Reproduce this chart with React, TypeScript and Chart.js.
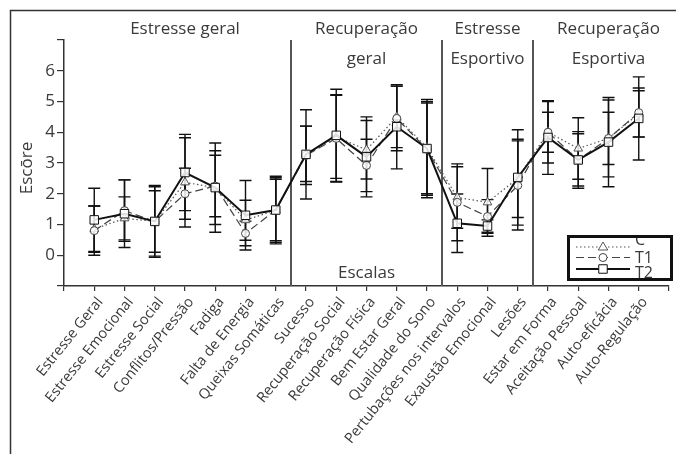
import { useEffect, useRef } from 'react';
import { Chart, registerables } from 'chart.js';
Chart.register(...registerables);

const FONT = '"Open Sans", "DejaVu Sans", sans-serif';
const TEXT = '#3a3a3a';

const categories = [
  'Estresse Geral', 'Estresse Emocional', 'Estresse Social', 'Conflitos/Pressão', 'Fadiga',
  'Falta de Energia', 'Queixas Somáticas', 'Sucesso', 'Recuperação Social', 'Recuperação Física',
  'Bem Estar Geral', 'Qualidade do Sono', 'Pertubações nos intervalos', 'Exaustão Emocional', 'Lesões',
  'Estar em Forma', 'Aceitação Pessoal', 'Auto-eficácia', 'Auto-Regulação',
];

const meanC = [0.85, 1.2, 1.1, 2.37, 2.2, 1.14, 1.47, 3.3, 3.85, 3.43, 4.5, 3.5, 1.88, 1.72, 2.5, 4.0, 3.47, 3.8, 4.6];
const sdC = [0.75, 0.7, 1.0, 1.45, 1.2, 0.65, 1.0, 0.9, 1.35, 0.95, 1.0, 1.5, 1.0, 1.1, 1.27, 0.65, 1.0, 0.85, 0.75];
const meanT1 = [0.8, 1.45, 1.1, 2.0, 2.25, 0.71, 1.47, 3.25, 3.8, 2.92, 4.45, 3.45, 1.72, 1.26, 2.27, 4.0, 3.1, 3.8, 4.64];
const sdT1 = [0.8, 1.0, 1.13, 0.83, 1.0, 0.4, 1.1, 0.95, 1.42, 0.85, 1.05, 1.5, 1.25, 0.55, 1.45, 1.0, 0.85, 1.25, 0.8];
const meanT2 = [1.15, 1.35, 1.1, 2.69, 2.2, 1.3, 1.47, 3.28, 3.9, 3.2, 4.18, 3.47, 1.04, 0.95, 2.53, 3.83, 3.1, 3.68, 4.45];
const sdT2 = [1.03, 1.1, 1.17, 1.24, 1.45, 1.13, 1.05, 1.45, 1.5, 1.3, 1.37, 1.6, 0.95, 0.2, 1.55, 1.2, 0.92, 1.45, 1.35];

const seriesNames = ['C', 'T1', 'T2'];
const yTickLabels = [0, 1, 2, 3, 4, 5, 6];
const separators = [7.5, 12.5, 15.5];
const groupTitles = [
  { x: 4, lines: ['Estresse geral'] },
  { x: 10, lines: ['Recuperação', 'geral'] },
  { x: 14, lines: ['Estresse', 'Esportivo'] },
  { x: 18, lines: ['Recuperação', 'Esportiva'] },
];
const axisTitleY = 'Escōre';
const axisTitleX = 'Escalas';

const means = [meanC, meanT1, meanT2];
const sds = [sdC, sdT1, sdT2];

const styles = [
  { color: '#555', width: 1.2, dash: [1.5, 2.5], point: 'triangle', radius: 5 },
  { color: '#444', width: 1.2, dash: [8, 4], point: 'circle', radius: 4 },
  { color: '#111', width: 2, dash: [] as number[], point: 'rect', radius: 6 },
];

function drawMarker(ctx: CanvasRenderingContext2D, kind: string, x: number, y: number, r: number) {
  ctx.beginPath();
  if (kind === 'triangle') {
    ctx.moveTo(x, y - r);
    ctx.lineTo(x + r * 0.95, y + r * 0.6);
    ctx.lineTo(x - r * 0.95, y + r * 0.6);
    ctx.closePath();
  } else if (kind === 'circle') {
    ctx.arc(x, y, r, 0, Math.PI * 2);
  } else {
    const s = r * Math.SQRT1_2;
    ctx.rect(x - s, y - s, 2 * s, 2 * s);
  }
  ctx.fill();
  ctx.stroke();
}

const decor = {
  id: 'decor',
  beforeDatasetsDraw(chart: any) {
    const { ctx, scales } = chart;
    const xs = scales.x, ys = scales.y;
    ctx.save();
    ctx.strokeStyle = '#555';
    ctx.lineWidth = 2;
    separators.forEach((s) => {
      const px = Math.round(xs.getPixelForValue(s));
      ctx.beginPath();
      ctx.moveTo(px, chart.chartArea.top);
      ctx.lineTo(px, chart.chartArea.bottom);
      ctx.stroke();
    });
    ctx.strokeStyle = '#111';
    ctx.lineWidth = 1.4;
    means.forEach((m, si) => {
      m.forEach((v, i) => {
        const px = xs.getPixelForValue(i + 1);
        const t = ys.getPixelForValue(v + sds[si][i]);
        const b = ys.getPixelForValue(v - sds[si][i]);
        ctx.beginPath();
        ctx.moveTo(px, t); ctx.lineTo(px, b);
        ctx.moveTo(px - 6, t); ctx.lineTo(px + 6, t);
        ctx.moveTo(px - 6, b); ctx.lineTo(px + 6, b);
        ctx.stroke();
      });
    });
    ctx.restore();
  },
  afterDraw(chart: any) {
    const { ctx, scales } = chart;
    const xs = scales.x;
    ctx.save();
    ctx.strokeStyle = '#333';
    ctx.lineWidth = 1.5;
    ctx.beginPath();
    ctx.moveTo(10.5, 454);
    ctx.lineTo(10.5, 10.5);
    ctx.lineTo(676, 10.5);
    ctx.stroke();
    ctx.fillStyle = TEXT;
    ctx.font = `17px ${FONT}`;
    ctx.textAlign = 'center';
    ctx.textBaseline = 'alphabetic';
    groupTitles.forEach((g) => {
      const px = xs.getPixelForValue(g.x);
      g.lines.forEach((l, li) => ctx.fillText(l, px, 34 + li * 29.5));
    });
    ctx.fillText(axisTitleX, xs.getPixelForValue(10), 278);
    ctx.save();
    ctx.translate(32, 168);
    ctx.rotate(-Math.PI / 2);
    ctx.textAlign = 'center';
    ctx.textBaseline = 'alphabetic';
    ctx.fillText(axisTitleY, 0, 0);
    ctx.restore();
    const bx = 568.5, by = 236.5, bw = 103, bh = 43;
    ctx.save();
    ctx.beginPath();
    ctx.rect(bx, by, bw, bh);
    ctx.clip();
    const rows = [247, 257.5, 269];
    const textY = [245, 263, 278];
    styles.forEach((s, i) => {
      ctx.strokeStyle = s.color;
      ctx.lineWidth = s.width;
      ctx.setLineDash(s.dash);
      ctx.beginPath();
      ctx.moveTo(576, rows[i]);
      ctx.lineTo(630, rows[i]);
      ctx.stroke();
      ctx.setLineDash([]);
      ctx.lineWidth = 1;
      ctx.fillStyle = '#fff';
      drawMarker(ctx, s.point, 603, rows[i], s.radius);
      ctx.fillStyle = TEXT;
      ctx.font = `16px ${FONT}`;
      ctx.textAlign = 'left';
      ctx.fillText(seriesNames[i], 635, textY[i]);
    });
    ctx.restore();
    ctx.strokeStyle = '#111';
    ctx.lineWidth = 3;
    ctx.strokeRect(bx, by, bw, bh);
    ctx.restore();
  },
};

export default function App() {
  const ref = useRef<HTMLCanvasElement | null>(null);
  useEffect(() => {
    if (!ref.current) return;
    const datasets = means.map((m, si) => ({
      label: seriesNames[si],
      data: m.map((v, i) => ({ x: i + 1, y: v })),
      borderColor: styles[si].color,
      borderWidth: styles[si].width,
      borderDash: styles[si].dash,
      pointStyle: styles[si].point,
      pointRadius: styles[si].radius,
      pointBackgroundColor: 'rgba(255,255,255,0.85)',
      pointBorderColor: styles[si].color,
      pointBorderWidth: 1,
      fill: false,
      tension: 0,
      order: 3 - si,
    }));
    const chart = new Chart(ref.current, {
      type: 'line',
      data: { datasets },
      plugins: [decor],
      options: {
        animation: false,
        responsive: false,
        maintainAspectRatio: false,
        layout: { padding: { top: 40, left: 0, right: 0, bottom: 0 } },
        plugins: { legend: { display: false }, tooltip: { enabled: false } },
        scales: {
          x: {
            type: 'linear',
            min: 0,
            max: 20,
            afterFit: (s: any) => { s.height = 168; s.paddingLeft = 0; s.paddingRight = 0; },
            afterBuildTicks: (s: any) => { s.ticks = Array.from({ length: 21 }, (_, i) => ({ value: i })); },
            ticks: {
              autoSkip: false,
              stepSize: 1,
              minRotation: 51,
              maxRotation: 51,
              padding: 3,
              labelOffset: 6,
              color: TEXT,
              font: { family: FONT, size: 14.5 },
              callback: (v: any) => categories[Number(v) - 1] ?? '',
            },
            grid: { display: true, drawOnChartArea: false, drawTicks: true, tickLength: 5, color: '#333', lineWidth: 1.2 },
            border: { display: true, color: '#333', width: 1.5 },
          },
          y: {
            type: 'linear',
            min: -1,
            max: 7,
            afterFit: (s: any) => { s.width = 64; s.paddingTop = 0; s.paddingBottom = 0; },
            ticks: {
              stepSize: 1,
              padding: 2,
              color: TEXT,
              font: { family: FONT, size: 17 },
              callback: (v: any) => (yTickLabels.includes(Number(v)) ? String(v) : ''),
            },
            grid: { display: true, drawOnChartArea: false, drawTicks: true, tickLength: 7, color: '#333', lineWidth: 1.2 },
            border: { display: true, color: '#333', width: 1.5 },
          },
        },
      } as any,
    });
    return () => chart.destroy();
  }, []);
  return (
    <div style={{ position: 'fixed', left: 0, top: 0, width: 676, height: 454, background: '#fff' }}>
      <canvas ref={ref} width={676} height={454} style={{ width: 676, height: 454, display: 'block' }} />
    </div>
  );
}
